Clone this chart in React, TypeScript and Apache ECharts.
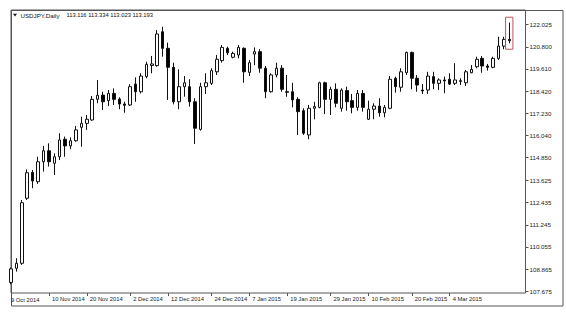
import React, { useEffect, useRef } from 'react';
import * as echarts from 'echarts';

const symbolTitle = 'USDJPY.Daily';
const headerOHLC = '113.116 113.334 113.023 113.193';

// [open, close, low, high]
const candles: number[][] = [
  [108.15, 108.88, 108.05, 108.95],
  [108.91, 109.18, 108.73, 109.45],
  [109.18, 112.43, 109.09, 112.58],
  [112.67, 114.04, 112.58, 114.22],
  [114.06, 113.60, 113.21, 114.19],
  [113.56, 114.63, 113.44, 114.90],
  [114.63, 115.22, 114.10, 115.48],
  [115.22, 114.63, 114.37, 115.62],
  [114.55, 114.90, 113.92, 115.08],
  [114.90, 115.80, 114.72, 116.16],
  [115.84, 115.48, 114.90, 115.98],
  [115.48, 115.76, 115.30, 115.94],
  [115.76, 116.34, 115.71, 116.55],
  [116.48, 116.69, 115.44, 117.05],
  [116.69, 116.91, 116.34, 117.14],
  [116.87, 117.98, 116.83, 118.16],
  [117.98, 118.20, 117.77, 119.02],
  [118.21, 117.85, 117.41, 118.39],
  [117.91, 118.30, 117.62, 118.48],
  [118.30, 117.98, 117.68, 118.57],
  [118.00, 117.73, 117.45, 118.09],
  [117.73, 117.66, 117.26, 117.85],
  [117.68, 118.66, 117.62, 118.79],
  [118.80, 118.39, 117.85, 119.16],
  [118.39, 119.23, 118.30, 119.38],
  [119.20, 119.86, 119.11, 120.00],
  [119.80, 119.88, 119.38, 120.31],
  [119.79, 121.49, 119.73, 121.70],
  [121.61, 120.72, 120.27, 121.88],
  [120.72, 119.70, 117.95, 121.02],
  [119.70, 117.85, 117.71, 119.95],
  [117.85, 118.66, 117.45, 119.59],
  [118.66, 118.87, 118.12, 119.23],
  [118.66, 117.85, 117.59, 119.06],
  [117.85, 116.43, 115.58, 118.04],
  [116.37, 118.66, 116.30, 118.87],
  [118.66, 118.87, 118.27, 119.38],
  [118.84, 119.52, 118.75, 119.65],
  [119.46, 120.13, 119.29, 120.36],
  [120.06, 120.77, 119.95, 120.90],
  [120.72, 120.48, 120.36, 120.81],
  [120.24, 120.45, 120.18, 120.54],
  [120.36, 120.77, 120.18, 120.90],
  [120.72, 119.46, 118.87, 120.77],
  [119.43, 119.95, 119.23, 120.09],
  [120.41, 120.54, 119.82, 120.77],
  [120.54, 119.65, 119.41, 120.67],
  [119.65, 118.39, 118.04, 119.77],
  [118.39, 119.29, 118.34, 119.38],
  [119.29, 119.65, 119.16, 119.95],
  [119.65, 118.52, 118.39, 119.82],
  [118.39, 118.36, 118.12, 119.29],
  [118.39, 117.95, 117.55, 118.87],
  [117.98, 117.32, 116.07, 118.09],
  [117.37, 116.16, 116.07, 117.50],
  [116.07, 117.50, 115.84, 117.68],
  [117.50, 117.59, 116.91, 117.85],
  [117.55, 118.87, 117.50, 118.93],
  [118.87, 117.98, 117.19, 118.93],
  [117.98, 118.52, 117.14, 118.66],
  [118.52, 117.77, 117.55, 118.84],
  [117.50, 118.48, 117.32, 118.57],
  [118.45, 117.85, 117.37, 118.66],
  [117.91, 117.55, 117.23, 118.27],
  [117.55, 118.30, 117.37, 118.48],
  [118.30, 117.55, 117.32, 118.48],
  [116.91, 117.45, 116.87, 117.91],
  [117.45, 117.62, 116.91, 117.77],
  [117.62, 117.26, 117.05, 118.04],
  [117.26, 117.55, 117.02, 117.68],
  [117.50, 119.06, 117.45, 119.23],
  [119.11, 118.66, 118.34, 119.20],
  [118.63, 119.46, 118.39, 119.65],
  [119.41, 120.50, 119.29, 120.54],
  [120.50, 119.11, 118.52, 120.54],
  [119.11, 118.75, 118.39, 119.29],
  [118.48, 118.43, 118.27, 118.80],
  [118.48, 119.23, 118.27, 119.46],
  [119.20, 118.84, 118.52, 119.46],
  [118.84, 119.02, 118.48, 119.11],
  [119.02, 118.97, 118.31, 119.20],
  [119.06, 118.80, 118.75, 119.38],
  [118.84, 119.02, 118.75, 119.92],
  [118.98, 118.95, 118.75, 119.11],
  [118.87, 119.46, 118.70, 119.56],
  [119.41, 119.59, 119.38, 119.82],
  [119.73, 120.13, 119.65, 120.27],
  [120.18, 119.77, 119.41, 120.31],
  [119.77, 119.70, 119.52, 119.88],
  [119.70, 120.18, 119.65, 120.27],
  [120.18, 120.84, 120.09, 121.34],
  [120.84, 121.20, 120.67, 121.34],
  [121.20, 121.13, 120.99, 122.10],
];

const totalSlots = 96;
const firstDateLabel = '29 Oct 2014';
const dateTickIndex = [7, 14, 22, 29, 37, 44, 51, 59, 66, 74, 81];
const dateTickLabels = [
  '10 Nov 2014', '20 Nov 2014', '2 Dec 2014', '12 Dec 2014', '24 Dec 2014',
  '7 Jan 2015', '19 Jan 2015', '29 Jan 2015', '10 Feb 2015', '20 Feb 2015', '4 Mar 2015',
];
const priceTicks = [
  107.675, 108.865, 110.055, 111.245, 112.435, 113.625, 114.85,
  116.04, 117.23, 118.42, 119.61, 120.8, 122.025,
];
const priceMin = 107.584;
const priceMax = 122.777;
// [bar index, top, bottom]
const highlightBox = [[92, 122.39, 120.67]];

const FONT = 'Liberation Sans, Arial, sans-serif';

export default function App() {
  const ref = useRef<HTMLDivElement>(null);
  useEffect(() => {
    if (!ref.current) return;
    const chart = echarts.init(ref.current, undefined, { renderer: 'svg' });
    const categories = Array.from({ length: totalSlots }, (_, i) => String(i));
    const labelMap: Record<number, string> = {};
    dateTickIndex.forEach((idx, i) => { labelMap[idx] = dateTickLabels[i]; });
    const frameColor = '#555';
    chart.setOption({
      animation: false,
      backgroundColor: '#fff',
      grid: {
        left: 11, top: 10, right: 40.5, bottom: 24,
        show: true, borderColor: frameColor, borderWidth: 1, backgroundColor: 'transparent',
      },
      xAxis: {
        type: 'category',
        data: categories,
        boundaryGap: false,
        axisLine: { show: false },
        axisTick: {
          show: true, length: 3, inside: false,
          interval: (i: number) => i === 0 || labelMap[i] !== undefined,
          lineStyle: { color: frameColor, width: 1 },
        },
        axisLabel: {
          show: true,
          interval: (i: number) => labelMap[i] !== undefined,
          formatter: (_v: string, i: number) => labelMap[i] ?? '',
          align: 'left',
          padding: [0, 0, 0, 3],
          margin: 3,
          fontSize: 5.8,
          fontFamily: FONT,
          color: '#222',
        },
        splitLine: { show: false },
      },
      yAxis: {
        type: 'value',
        position: 'right',
        min: priceMin,
        max: priceMax,
        axisLine: { show: false },
        axisTick: {
          show: true, length: 3, inside: false,
          customValues: priceTicks,
          lineStyle: { color: frameColor, width: 1 },
        },
        axisLabel: {
          show: true,
          customValues: priceTicks,
          formatter: (v: number) => v.toFixed(3),
          margin: 4,
          fontSize: 6.2,
          fontFamily: FONT,
          color: '#222',
        },
        splitLine: { show: false },
      },
      series: [
        {
          type: 'candlestick',
          data: candles,
          barWidth: 3,
          clip: true,
          itemStyle: {
            color: '#fff',
            color0: '#000',
            borderColor: '#111',
            borderColor0: '#111',
            borderWidth: 1,
          },
        },
        {
          type: 'custom',
          data: highlightBox,
          encode: { x: 0, y: [1, 2] },
          renderItem: (_p: any, api: any) => {
            const top = api.coord([api.value(0), api.value(1)]);
            const bot = api.coord([api.value(0), api.value(2)]);
            const w = api.size([1, 0])[0] * 1.35;
            return {
              type: 'rect',
              shape: { x: top[0] - w / 2, y: top[1], width: w, height: bot[1] - top[1] },
              style: { fill: 'none', stroke: '#c4505e', lineWidth: 1 },
            };
          },
          z: 5,
        },
      ],
      graphic: [
        {
          type: 'rect', z: 0, silent: true,
          shape: { x: 11.5, y: 10.5, width: 551.5, height: 295.5 },
          style: { fill: 'none', stroke: frameColor, lineWidth: 1 },
        },
        {
          type: 'polygon', z: 10, silent: true,
          shape: { points: [[13, 13.8], [17, 13.8], [15, 16.6]] },
          style: { fill: '#111' },
        },
        {
          type: 'text', z: 10, x: 20.5, y: 15.3, silent: true,
          style: { text: symbolTitle, fontSize: 6.2, fontFamily: FONT, fill: '#111', verticalAlign: 'middle', align: 'left' },
        },
        {
          type: 'text', z: 10, x: 66.5, y: 15.3, silent: true,
          style: { text: headerOHLC, fontSize: 5.8, fontFamily: FONT, fill: '#111', verticalAlign: 'middle', align: 'left' },
        },
        {
          type: 'text', z: 10, x: 7.8, y: 299.6, silent: true,
          style: { text: firstDateLabel, fontSize: 5.8, fontFamily: FONT, fill: '#222', verticalAlign: 'middle', align: 'left' },
        },
        {
          type: 'rect', z: 11, silent: true,
          shape: { x: 0, y: 294, width: 10.9, height: 11 },
          style: { fill: '#fff' },
        },
      ],
    });
    return () => chart.dispose();
  }, []);
  return (
    <div
      ref={ref}
      style={{ position: 'fixed', left: 0, top: 0, width: 566, height: 317, background: '#fff' }}
    />
  );
}
